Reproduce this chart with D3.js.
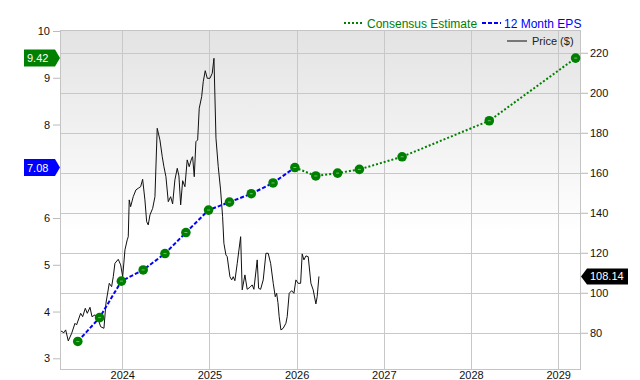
<!DOCTYPE html>
<html><head><meta charset="utf-8">
<script src="https://cdn.jsdelivr.net/npm/d3@7"></script>
<style>
body{margin:0;background:#fff}
svg{display:block}
text{font-family:"Liberation Sans",Arial,Helvetica,sans-serif}
</style>
</head><body>
<svg id="chart" width="640" height="380"></svg>
<script>
// ---------- DATA ----------
const yearTicks = [2024, 2025, 2026, 2027, 2028, 2029];
const epsTicks = [3, 4, 5, 6, 8, 9, 10];
const priceTicks = [80, 100, 120, 140, 160, 180, 200, 220];

// 12 Month EPS (actual, trailing)
const epsYears  = [2023.49, 2023.74, 2023.99, 2024.24, 2024.49, 2024.73, 2024.99, 2025.23, 2025.48, 2025.73, 2025.98];
const epsValues = [3.36, 3.87, 4.65, 4.89, 5.24, 5.69, 6.17, 6.34, 6.52, 6.75, 7.08];

// Consensus Estimate
const estYears  = [2025.98, 2026.22, 2026.47, 2026.72, 2027.21, 2028.21, 2029.20];
const estValues = [7.08, 6.90, 6.96, 7.04, 7.31, 8.08, 9.42];

// Price ($)
const priceYears = [2023.297,2023.331,2023.351,2023.381,2023.420,2023.458,2023.476,2023.523,2023.546,2023.576,
 2023.599,2023.630,2023.653,2023.687,2023.725,2023.752,2023.790,2023.813,2023.851,2023.878,
 2023.897,2023.916,2023.954,2023.982,2024.005,2024.031,2024.057,2024.069,2024.080,2024.096,
 2024.126,2024.157,2024.183,2024.211,2024.234,2024.260,2024.280,2024.298,2024.318,2024.349,
 2024.375,2024.401,2024.432,2024.459,2024.478,2024.501,2024.528,2024.555,2024.578,2024.604,
 2024.631,2024.650,2024.670,2024.693,2024.719,2024.745,2024.768,2024.796,2024.807,2024.826,
 2024.845,2024.865,2024.883,2024.911,2024.929,2024.952,2024.975,2025.006,2025.032,2025.052,
 2025.075,2025.101,2025.128,2025.151,2025.166,2025.189,2025.204,2025.235,2025.255,2025.273,
 2025.292,2025.319,2025.358,2025.376,2025.407,2025.433,2025.464,2025.491,2025.510,2025.548,
 2025.564,2025.587,2025.617,2025.648,2025.674,2025.702,2025.732,2025.755,2025.771,2025.786,
 2025.800,2025.820,2025.846,2025.877,2025.892,2025.915,2025.943,2025.969,2025.992,2026.018,
 2026.046,2026.064,2026.084,2026.107,2026.133,2026.164,2026.190,2026.221,2026.236,2026.256];
const priceValues = [80.85,80,81.4,75.9,79.7,84.7,83.9,89.7,88,92.2,
 89.7,92.7,88,88.9,86.7,83,82.2,94.7,104.7,103,
 108,114.7,116.7,113.9,108,121.4,126.4,128,146.4,143,
 148,151.4,152.2,153,156.7,146.4,135.5,133.9,138.9,142.2,
 148,182.2,176.4,168,163,158,145.5,148,144.4,156.4,
 162.2,158.4,143.9,156,153,166.4,163,167.2,168,158,
 175.5,176.4,192.2,198,205.5,211,207.2,207.2,209.7,217.2,
 177.2,163,151.4,138,124.7,118.9,118,108,106.4,108,
 106,114.7,128,101.4,108.9,101.7,102.7,103.9,101.7,116.4,
 102.2,101.7,106.4,119.7,119.7,114.7,104.7,98,99.7,95,
 88,81.4,82.2,84.7,88,99.7,101,99.7,106.4,104.7,
 104.7,119.4,116.4,118.4,118,104.7,101.4,94.4,98,108.14];

const lastEPS = 7.08, lastEst = 9.42, lastPrice = 108.14;

// ---------- LAYOUT ----------
const L = 60, R = 581, T = 30, B = 370;
const svg = d3.select("#chart");

const x = d3.scaleLinear().domain([2023.286, 2029.262]).range([L, R]);
const yE = d3.scaleLinear().domain([2.750, 10.021]).range([B, T]);
const yP = d3.scaleLinear().domain([61.35, 231.35]).range([B, T]);

// background gradient
const defs = svg.append("defs");
const g = defs.append("linearGradient").attr("id","bg").attr("x1",0).attr("y1",0).attr("x2",0).attr("y2",1);
g.append("stop").attr("offset","0%").attr("stop-color","#e3e3e3");
g.append("stop").attr("offset","60%").attr("stop-color","#ffffff");
g.append("stop").attr("offset","100%").attr("stop-color","#ffffff");
svg.append("rect").attr("x",L).attr("y",T).attr("width",R-L).attr("height",B-T).attr("fill","url(#bg)");

const gridColor = "#c8c8c8";
// horizontal grid (price ticks) extending into right tick marks
svg.append("g").selectAll("line").data(priceTicks).join("line")
  .attr("x1",L).attr("x2",R+7)
  .attr("y1",d=>Math.round(yP(d))+0.5).attr("y2",d=>Math.round(yP(d))+0.5)
  .attr("stroke",gridColor).attr("stroke-width",1);
// vertical grid
svg.append("g").selectAll("line").data(yearTicks).join("line")
  .attr("x1",d=>Math.round(x(d))+0.5).attr("x2",d=>Math.round(x(d))+0.5)
  .attr("y1",T).attr("y2",B)
  .attr("stroke",gridColor).attr("stroke-width",1);
// border
svg.append("rect").attr("x",L+0.5).attr("y",T+0.5).attr("width",R-L-1).attr("height",B-T-1)
  .attr("fill","none").attr("stroke","#c4c4c4");

const ff = '"Liberation Sans",Arial,sans-serif';
// left axis
const axL = svg.append("g").attr("transform",`translate(${L},0)`)
  .call(d3.axisLeft(yE).tickValues(epsTicks).tickSize(7).tickPadding(3).tickFormat(d3.format("d")));
axL.select(".domain").remove();
axL.selectAll(".tick line").attr("stroke","#bbb");
axL.selectAll(".tick text").attr("font-size",11).attr("fill","#111").style("font-family",ff);

// right axis labels
const axR = svg.append("g").attr("transform",`translate(${R},0)`)
  .call(d3.axisRight(yP).tickValues(priceTicks).tickSize(7).tickPadding(2).tickFormat(d3.format("d")));
axR.select(".domain").remove();
axR.selectAll(".tick line").attr("stroke",gridColor);
axR.selectAll(".tick text").attr("font-size",11).attr("fill","#111").style("font-family",ff);

// bottom axis
const axB = svg.append("g").attr("transform",`translate(0,${B})`)
  .call(d3.axisBottom(x).tickValues(yearTicks).tickSize(0).tickPadding(1).tickFormat(d3.format("d")));
axB.select(".domain").remove();
axB.selectAll(".tick text").attr("font-size",11).attr("fill","#111").attr("dy","0.7em").style("font-family",ff);

// price line
const priceData = priceYears.map((t,i)=>[t, priceValues[i]]);
svg.append("path").datum(priceData)
  .attr("d", d3.line().x(d=>x(d[0])).y(d=>yP(d[1])))
  .attr("fill","none").attr("stroke","#111").attr("stroke-width",1).attr("stroke-linejoin","round");

// EPS line (blue dashed)
const epsData = epsYears.map((t,i)=>[t, epsValues[i]]);
svg.append("path").datum(epsData)
  .attr("d", d3.line().x(d=>x(d[0])).y(d=>yE(d[1])))
  .attr("fill","none").attr("stroke","#0000ff").attr("stroke-width",2).attr("stroke-dasharray","4,2");

// estimate line (green dotted)
const estData = estYears.map((t,i)=>[t, estValues[i]]);
svg.append("path").datum(estData)
  .attr("d", d3.line().x(d=>x(d[0])).y(d=>yE(d[1])))
  .attr("fill","none").attr("stroke","#008000").attr("stroke-width",2).attr("stroke-dasharray","2,2");

// dots
const dots = epsData.concat(estData.slice(1));
const dg = svg.append("g");
dg.selectAll("circle").data(dots).join("circle")
  .attr("cx",d=>x(d[0])).attr("cy",d=>yE(d[1])).attr("r",4.8).attr("fill","#008000");
dg.selectAll("line").data(dots).join("line")
  .attr("x1",d=>x(d[0])-1.5).attr("x2",d=>x(d[0])+1.5)
  .attr("y1",d=>yE(d[1])).attr("y2",d=>yE(d[1]))
  .attr("stroke","#fff").attr("stroke-opacity",0.45).attr("stroke-width",1);

// left value flags
function leftFlag(v, color){
  const yy = yE(v), h = 17;
  const gF = svg.append("g");
  gF.append("path").attr("d",`M24,${yy-h/2} L55,${yy-h/2} L60,${yy} L55,${yy+h/2} L24,${yy+h/2} Z`).attr("fill",color);
  gF.append("text").attr("x",27).attr("y",yy+4).attr("font-size",11).attr("fill","#fff").text(d3.format(".2f")(v));
}
leftFlag(lastEst, "#008000");
leftFlag(lastEPS, "#0000ff");

// right price flag
{
  const yy = yP(lastPrice), h = 16;
  svg.append("path").attr("d",`M${R},${yy} L${R+6},${yy-h/2} L628,${yy-h/2} L628,${yy+h/2} L${R+6},${yy+h/2} Z`).attr("fill","#000");
  svg.append("text").attr("x",590).attr("y",yy+4).attr("font-size",11).attr("fill","#fff").text(d3.format(".2f")(lastPrice));
}

// legend
svg.append("line").attr("x1",344).attr("x2",362).attr("y1",23).attr("y2",23)
  .attr("stroke","#008000").attr("stroke-width",2).attr("stroke-dasharray","2,2");
svg.append("text").attr("x",367).attr("y",27.5).attr("font-size",12).attr("fill","#008000").text("Consensus Estimate");
svg.append("line").attr("x1",482).attr("x2",501).attr("y1",23).attr("y2",23)
  .attr("stroke","#0000ff").attr("stroke-width",2).attr("stroke-dasharray","4,2");
svg.append("text").attr("x",504).attr("y",27.5).attr("font-size",12).attr("fill","#0000ff").text("12 Month EPS");
svg.append("line").attr("x1",507).attr("x2",527).attr("y1",41).attr("y2",41)
  .attr("stroke","#777").attr("stroke-width",2);
svg.append("text").attr("x",532).attr("y",45).attr("font-size",11).attr("fill","#222").text("Price ($)");
</script>
</body></html>
